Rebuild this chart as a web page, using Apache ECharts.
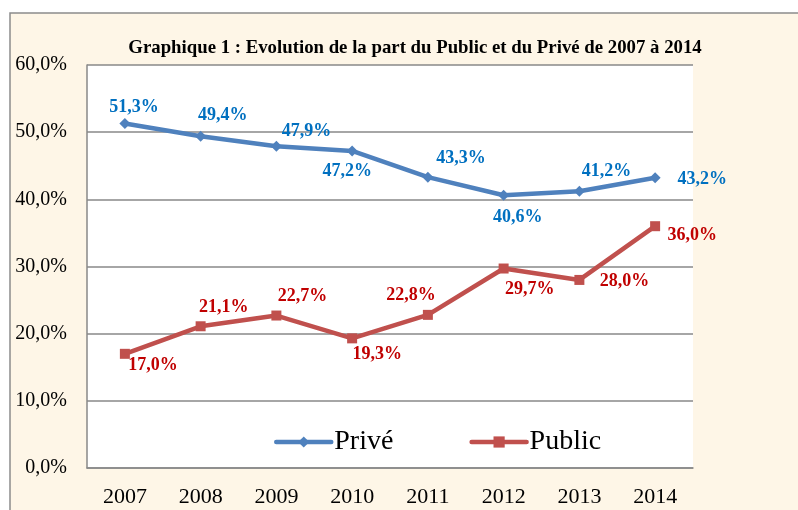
<!DOCTYPE html>
<html>
<head>
    <meta charset="UTF-8">
    <title>Graphique 1</title>
    <script src="https://cdn.jsdelivr.net/npm/echarts@6/dist/echarts.min.js"></script>
    <style>
        html, body { margin: 0; padding: 0; background: #fff; }
    </style>
</head>
<body>
<div id="chart" style="width: 798px;height:510px;"></div>
<script type="text/javascript">
    var years = ['2007', '2008', '2009', '2010', '2011', '2012', '2013', '2014'];
    var prive = [51.3, 49.4, 47.9, 47.2, 43.3, 40.6, 41.2, 43.2];
    var publicData = [17.0, 21.1, 22.7, 19.3, 22.8, 29.7, 28.0, 36.0];

    // decalage des etiquettes, comme dans le graphique Excel
    var priveOffsets = [[9, -16], [22, -21], [30, -15], [-5, 20], [33, -19], [14, 22], [27, -20], [47, 2]];
    var publicOffsets = [[28, 12], [23, -19], [26, -19], [25, 16], [-17, -20], [26, 21], [45, 1], [37, 9]];

    var serif = '"Liberation Serif", "Times New Roman", serif';

    function pct(v) {
        return v.toFixed(1).replace('.', ',') + '%';
    }

    function buildData(values, offsets, color) {
        return values.map(function (v, i) {
            return {
                value: v,
                label: {
                    show: true,
                    position: 'inside',
                    offset: offsets[i],
                    formatter: function (p) { return pct(p.value); },
                    color: color,
                    fontFamily: serif,
                    fontWeight: 'bold',
                    fontSize: 18
                }
            };
        });
    }

    var option = {
        animation: false,
        backgroundColor: '#fff',
        graphic: [{
            type: 'rect',
            z: -10,
            shape: {x: 10, y: 13, width: 800, height: 510},
            style: {fill: '#FEF6E7', stroke: '#8c8c8c', lineWidth: 1.5}
        }],
        title: {
            text: 'Graphique 1 : Evolution de la part du Public et du Privé de 2007 à 2014',
            left: 410,
            top: 34,
            textAlign: 'center',
            textStyle: {
                fontFamily: serif,
                fontWeight: 'bold',
                fontSize: 18.8,
                color: '#000'
            }
        },
        legend: {
            left: 269,
            top: 423,
            itemWidth: 55,
            itemHeight: 14,
            itemGap: 76,
            textStyle: {
                fontFamily: serif,
                fontSize: 28,
                color: '#000',
                padding: [0, 0, 0, -2]
            },
            data: [
                {name: 'Privé', lineStyle: {width: 4.5, cap: 'round'}},
                {name: 'Public', lineStyle: {width: 4.5, cap: 'round'}}
            ]
        },
        grid: {
            left: 87,
            top: 65,
            right: 105,
            bottom: 42,
            show: true,
            backgroundColor: '#fff',
            borderWidth: 0
        },
        xAxis: {
            type: 'category',
            data: years,
            boundaryGap: true,
            axisLine: {lineStyle: {color: '#888', width: 1.5}},
            axisTick: {show: false},
            axisLabel: {
                margin: 18,
                color: '#000',
                fontFamily: serif,
                fontSize: 22
            }
        },
        yAxis: {
            type: 'value',
            min: 0,
            max: 60,
            interval: 10,
            axisLine: {show: true, lineStyle: {color: '#888', width: 1.5}},
            axisTick: {show: false},
            splitLine: {lineStyle: {color: '#888', width: 1.5}},
            axisLabel: {
                margin: 20,
                color: '#000',
                fontFamily: serif,
                fontSize: 20,
                formatter: function (v) { return pct(v); }
            }
        },
        series: [
            {
                name: 'Privé',
                type: 'line',
                symbol: 'diamond',
                symbolSize: 11,
                lineStyle: {color: '#4F81BD', width: 4.5},
                itemStyle: {color: '#4F81BD'},
                data: buildData(prive, priveOffsets, '#0070C0')
            },
            {
                name: 'Public',
                type: 'line',
                symbol: 'rect',
                symbolSize: 10,
                lineStyle: {color: '#C0504D', width: 4.5},
                itemStyle: {color: '#C0504D'},
                data: buildData(publicData, publicOffsets, '#C00000')
            }
        ]
    };

    var myChart = echarts.init(document.getElementById('chart'));
    myChart.setOption(option);
</script>
</body>
</html>
